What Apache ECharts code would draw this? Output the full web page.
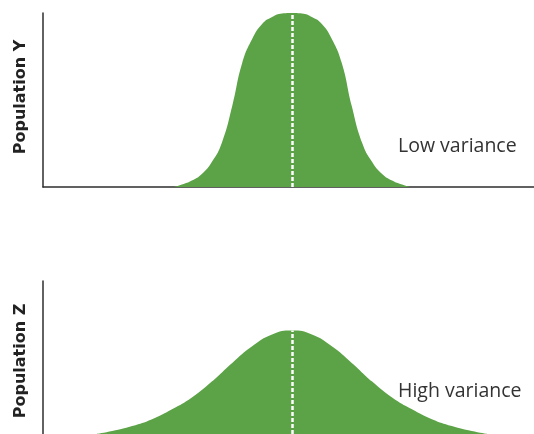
<!DOCTYPE html>
<html>
<head>
<meta charset="utf-8">
<script src="https://cdn.jsdelivr.net/npm/echarts@6/dist/echarts.min.js"></script>
<style>
  html, body { margin: 0; padding: 0; background: #fff; }
  #chart { width: 534px; height: 434px; }
</style>
</head>
<body>
<div id="chart"></div>
<script>
// Population Y: narrow distribution (position in SD units, relative frequency)
const xLow = [-2.37, -2.21, -2.01, -1.81, -1.61, -1.41, -1.20, -1.00, -0.80, -0.60, -0.40, -0.20,
              0,
              0.20, 0.40, 0.60, 0.80, 1.00, 1.20, 1.41, 1.61, 1.81, 2.01, 2.21, 2.37];
const yLow = [0, 0.014, 0.037, 0.075, 0.144, 0.253, 0.466, 0.713, 0.851, 0.937, 0.977, 0.997,
              1.0,
              0.997, 0.977, 0.937, 0.851, 0.713, 0.466, 0.253, 0.144, 0.075, 0.037, 0.014, 0];

// Population Z: wide distribution
const xHigh = [-3.92, -3.61, -3.21, -2.81, -2.41, -2.01, -1.61, -1.20, -0.80, -0.40,
               0,
               0.40, 0.80, 1.20, 1.61, 2.01, 2.41, 2.81, 3.21, 3.61, 3.92];
const yHigh = [0, 0.017, 0.046, 0.086, 0.144, 0.213, 0.305, 0.414, 0.511, 0.580,
               0.603,
               0.580, 0.511, 0.414, 0.305, 0.213, 0.144, 0.086, 0.046, 0.017, 0];

const panelNames = ['Population Y', 'Population Z'];
const varianceLabels = ['Low variance', 'High variance'];
const meanX = 0;

const GREEN = '#5ba346';
const AXIS = '#2e2e2e';

function pairs(xs, ys) { return xs.map((x, i) => [x, ys[i]]); }
function peakAt(xs, ys, x) { return ys[xs.indexOf(x)]; }

const chart = echarts.init(document.getElementById('chart'));

function xAxisFor(gridIndex, showLine) {
  return {
    type: 'value', gridIndex, min: -5, max: 4.86,
    axisLine: { show: showLine, onZero: false, lineStyle: { color: AXIS, width: 1.5 } },
    axisTick: { show: false }, axisLabel: { show: false }, splitLine: { show: false }
  };
}
function yAxisFor(gridIndex, max) {
  return {
    type: 'value', gridIndex, min: 0, max,
    axisLine: { show: true, onZero: false, lineStyle: { color: AXIS, width: 1.5 } },
    axisTick: { show: false }, axisLabel: { show: false }, splitLine: { show: false }
  };
}
function curve(idx, xs, ys) {
  return {
    type: 'line', xAxisIndex: idx, yAxisIndex: idx,
    data: pairs(xs, ys), smooth: 0.5,
    showSymbol: false, symbol: 'none',
    lineStyle: { width: 0 }, areaStyle: { color: GREEN, opacity: 1 },
    markLine: {
      silent: true, symbol: 'none', label: { show: false },
      lineStyle: { color: '#ffffff', type: [4, 2], width: 2.5 },
      data: [[{ coord: [meanX, 0] }, { coord: [meanX, peakAt(xs, ys, meanX)] }]]
    }
  };
}

const nameStyle = { fontFamily: 'DejaVu Sans', fontWeight: 'bold', fontSize: 16, fill: '#222',
                    align: 'center', verticalAlign: 'middle' };
const noteStyle = { fontFamily: 'Open Sans', fontSize: 19.5, fill: '#333',
                    align: 'left', verticalAlign: 'middle' };

chart.setOption({
  animation: false,
  grid: [
    { left: 43, right: 0, top: 13, height: 174 },
    { left: 43, right: 0, top: 281, height: 155 }
  ],
  xAxis: [xAxisFor(0, true), xAxisFor(1, false)],
  yAxis: [yAxisFor(0, 1), yAxisFor(1, 155 / 174)],
  series: [curve(0, xLow, yLow), curve(1, xHigh, yHigh)],
  graphic: [
    { type: 'text', x: 21, y: 97, rotation: Math.PI / 2,
      style: Object.assign({ text: panelNames[0] }, nameStyle) },
    { type: 'text', x: 21, y: 361, rotation: Math.PI / 2,
      style: Object.assign({ text: panelNames[1] }, nameStyle) },
    { type: 'text', x: 398, y: 146,
      style: Object.assign({ text: varianceLabels[0] }, noteStyle) },
    { type: 'text', x: 398, y: 391,
      style: Object.assign({ text: varianceLabels[1] }, noteStyle) }
  ]
});
</script>
</body>
</html>
